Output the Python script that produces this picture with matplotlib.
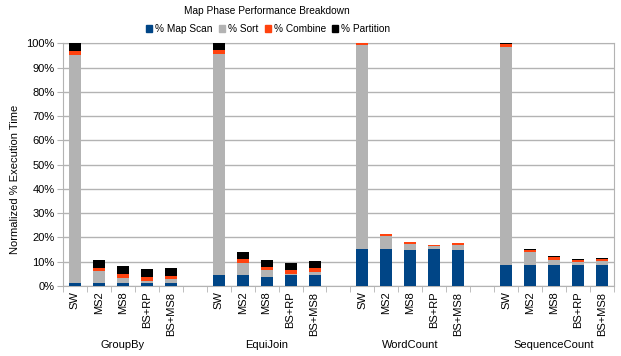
import numpy as np
import matplotlib.pyplot as plt
from matplotlib.patches import Patch

plt.rcParams['font.family'] = ['Liberation Sans', 'DejaVu Sans']

workloads = ["GroupBy", "EquiJoin", "WordCount", "SequenceCount"]
configs = ["SW", "MS2", "MS8", "BS+RP", "BS+MS8"]

# percentage of map-phase time per component, one entry per config, grouped by workload
map_scan = [1.4, 1.4, 1.4, 1.4, 1.4,
            4.4, 4.4, 3.9, 4.4, 4.4,
            15.4, 15.4, 15.0, 15.4, 15.0,
            8.8, 8.8, 8.8, 8.8, 8.8]
sort = [93.9, 4.7, 2.0, 0.8, 1.6,
        91.2, 5.2, 2.8, 0.7, 1.5,
        83.9, 5.4, 2.5, 0.9, 2.1,
        89.7, 5.4, 2.1, 1.3, 1.7]
combine = [1.7, 1.5, 1.7, 1.7, 1.3,
           1.6, 1.7, 1.3, 1.6, 1.7,
           0.7, 0.8, 0.8, 0.8, 0.8,
           1.2, 0.8, 1.2, 0.8, 0.8]
partition = [3.0, 3.3, 3.3, 3.3, 3.3,
             2.8, 2.9, 2.9, 2.9, 2.9,
             0.0, 0.0, 0.0, 0.0, 0.0,
             0.3, 0.4, 0.4, 0.4, 0.4]

series = [("% Map Scan", map_scan, "#004586"),
          ("% Sort", sort, "#b3b3b3"),
          ("% Combine", combine, "#ff420e"),
          ("% Partition", partition, "#000000")]

# one empty slot between workload groups
x = np.array([g * (len(configs) + 1) + i for g in range(len(workloads)) for i in range(len(configs))])
n_slots = len(workloads) * (len(configs) + 1) - 1

fig = plt.figure(figsize=(6.21, 3.56), dpi=100)
ax = fig.add_axes([0.1014, 0.1966, 0.8873, 0.6814])

bottom = np.zeros(len(x))
for name, vals, color in series:
    vals = np.array(vals)
    ax.bar(x, vals, 0.5, bottom=bottom, color=color, label=name, zorder=3)
    bottom += vals

ax.set_xlim(-0.5, n_slots - 0.5)
ax.set_ylim(0, 100)
ax.set_yticks(np.arange(0, 101, 10))
ax.set_yticklabels([f"{v}%" for v in range(0, 101, 10)], fontsize=8)
ax.yaxis.grid(True, color="#b3b3b3", linewidth=1, zorder=0)
for s in ax.spines.values():
    s.set_color("#b3b3b3")
ax.tick_params(axis="y", length=4, color="#b3b3b3", pad=2)

ax.set_xticks(np.arange(-0.5, n_slots, 1.0), minor=True)
ax.tick_params(axis="x", which="minor", length=4, color="#b3b3b3")
ax.set_xticks(x)
ax.set_xticklabels(configs * len(workloads), rotation=90, fontsize=8)
ax.tick_params(axis="x", which="major", length=0, pad=4)

for g, w in enumerate(workloads):
    cx = g * (len(configs) + 1) + (len(configs) - 1) / 2
    ax.text(cx, -0.245, w, transform=ax.get_xaxis_transform(), ha="center", va="center",
            fontsize=8)

ax.set_ylabel("Normalized % Execution Time", fontsize=8)
ax.yaxis.set_label_coords(-0.078, 0.438)

fig.text(0.43, 0.969, "Map Phase Performance Breakdown", ha="center", va="center", fontsize=7.3)
handles = [Patch(color=c, label=n) for n, _, c in series]
fig.legend(handles=handles, loc="center", bbox_to_anchor=(0.432, 0.918), ncol=4, frameon=False,
           fontsize=7.3, handlelength=0.6, handleheight=0.6, handletextpad=0.3, columnspacing=0.6)

fig.savefig("out.png", dpi=100)
